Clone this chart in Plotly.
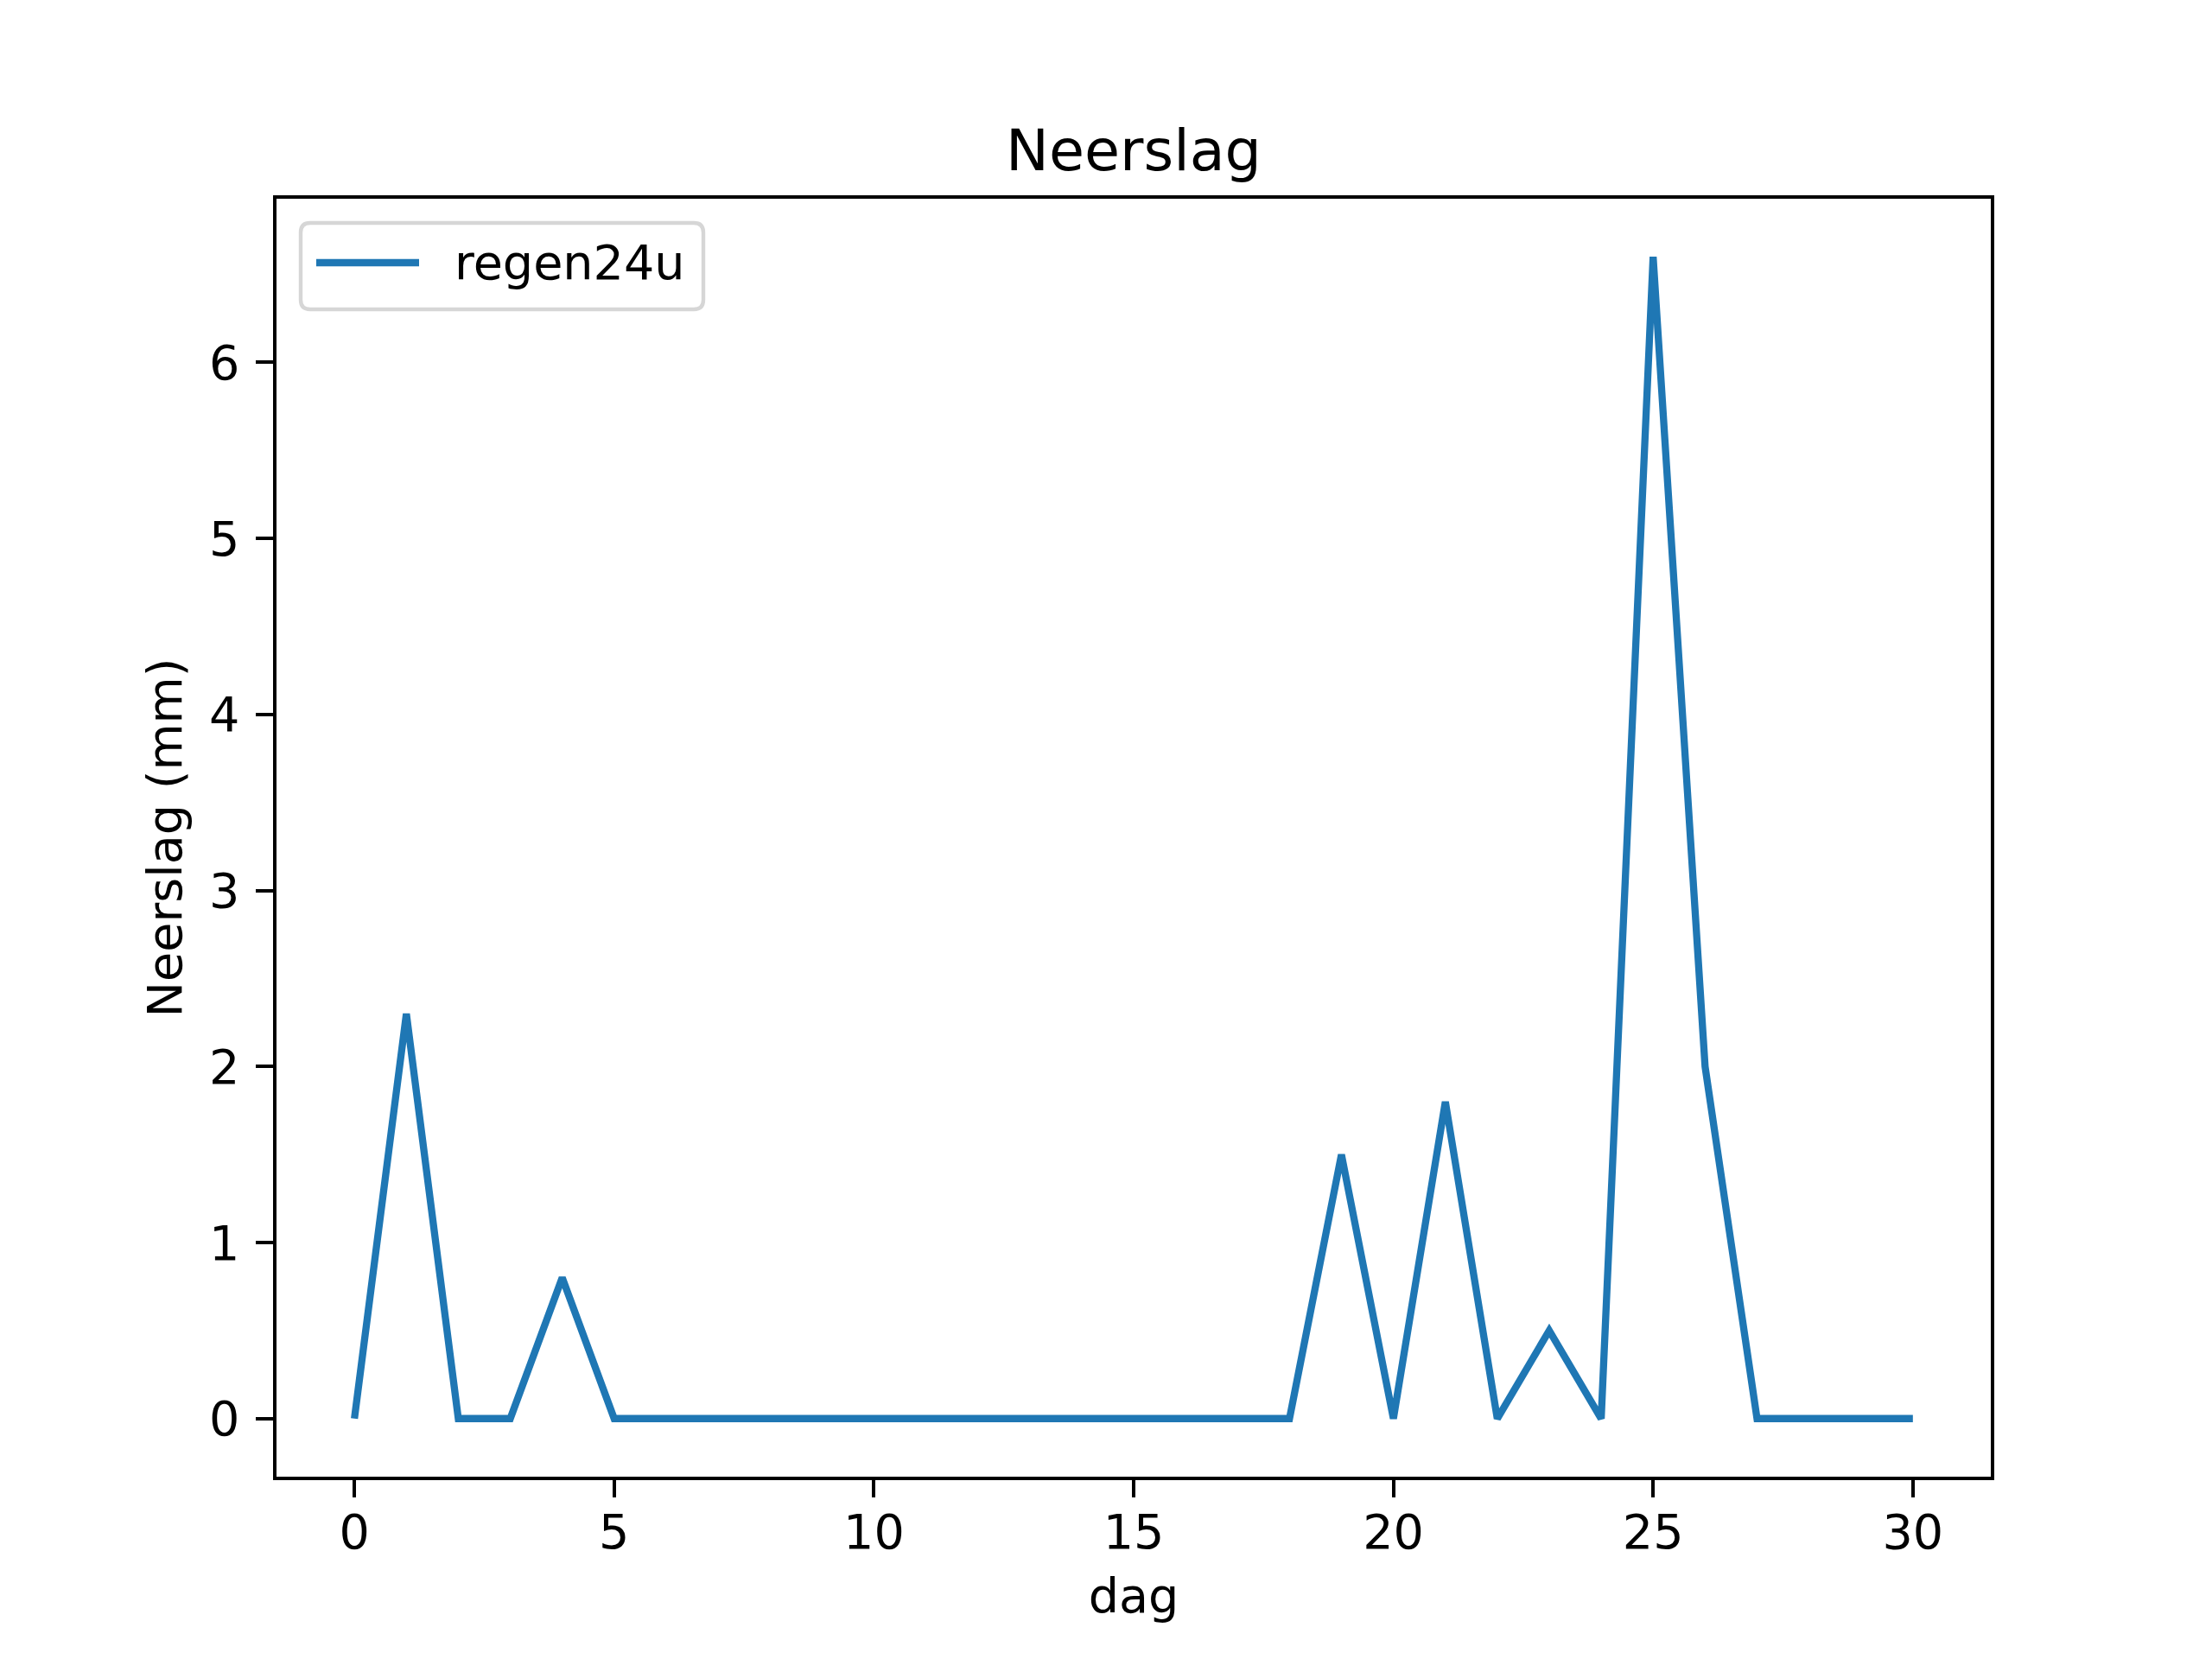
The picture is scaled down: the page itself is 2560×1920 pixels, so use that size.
import plotly.graph_objects as go

dag = list(range(31))
regen24u = [0, 2.3, 0, 0, 0.8, 0, 0, 0, 0, 0, 0, 0, 0, 0, 0, 0, 0, 0, 0,
            1.5, 0, 1.8, 0, 0.5, 0, 6.6, 2.0, 0, 0, 0, 0]
x_ticks = [0, 5, 10, 15, 20, 25, 30]
y_ticks = [0, 1, 2, 3, 4, 5, 6]
series_name = "regen24u"

W, H = 2560, 1920
L, R, T, B = 320, 256, 230, 211
PW, PH = W - L - R, H - T - B
FONT = "DejaVu Sans"
FS = 55.6
BLUE = "#1f77b4"

fig = go.Figure()
fig.add_trace(go.Scatter(x=dag, y=regen24u, mode="lines", name=series_name,
                         line=dict(color=BLUE, width=8.3), showlegend=False))

axis_common = dict(showgrid=False, zeroline=False, showline=True, linecolor="black",
                   linewidth=4.4, mirror=True, ticks="outside", ticklen=19.4,
                   tickwidth=4.4, tickcolor="black",
                   tickfont=dict(family=FONT, size=FS, color="black"))

fig.update_layout(
    width=W, height=H,
    margin=dict(l=L, r=R, t=T, b=B, autoexpand=False),
    paper_bgcolor="white", plot_bgcolor="white",
    font=dict(family=FONT, size=FS, color="black"),
    title=dict(text="Neerslag", x=L / W + PW / W / 2, xanchor="center",
               y=1 - (T - 33) / H, yanchor="bottom",
               font=dict(family=FONT, size=66.7, color="black")),
    xaxis=dict(range=[-1.5, 31.5], tickvals=x_ticks, ticktext=[str(v) for v in x_ticks],
               title=dict(text="dag", font=dict(family=FONT, size=FS), standoff=24),
               ticklabelstandoff=-7, **axis_common),
    yaxis=dict(range=[-0.33, 6.93], tickvals=y_ticks, ticktext=[str(v) for v in y_ticks],
               title=dict(text="Neerslag (mm)", font=dict(family=FONT, size=FS), standoff=14),
               ticklabelstandoff=8, **axis_common),
)

# legend box (matplotlib-style, upper left, rounded corners)
def px_x(p):
    return p / PW

def px_y(p):
    return 1 - p / PH

bx0, bx1 = 28, 28 + 466
by0, by1 = 28, 28 + 100
rr = 11
path = (
    f"M {px_x(bx0 + rr)},{px_y(by0)} L {px_x(bx1 - rr)},{px_y(by0)} "
    f"Q {px_x(bx1)},{px_y(by0)} {px_x(bx1)},{px_y(by0 + rr)} "
    f"L {px_x(bx1)},{px_y(by1 - rr)} "
    f"Q {px_x(bx1)},{px_y(by1)} {px_x(bx1 - rr)},{px_y(by1)} "
    f"L {px_x(bx0 + rr)},{px_y(by1)} "
    f"Q {px_x(bx0)},{px_y(by1)} {px_x(bx0)},{px_y(by1 - rr)} "
    f"L {px_x(bx0)},{px_y(by0 + rr)} "
    f"Q {px_x(bx0)},{px_y(by0)} {px_x(bx0 + rr)},{px_y(by0)} Z"
)
fig.add_shape(type="path", xref="paper", yref="paper", path=path,
              line=dict(color="#d6d6d6", width=4.4), fillcolor="rgba(255,255,255,0.8)")
ly = px_y(74)
fig.add_shape(type="line", xref="paper", yref="paper", x0=px_x(46), x1=px_x(165), y0=ly, y1=ly,
              line=dict(color=BLUE, width=8.3))
fig.add_annotation(xref="paper", yref="paper", x=px_x(204), y=ly, xanchor="left",
                   yanchor="middle", text=series_name, showarrow=False,
                   font=dict(family=FONT, size=FS, color="black"))

fig.write_html("out.html", config={"displayModeBar": False},
               post_script="document.body.style.margin='0';")
